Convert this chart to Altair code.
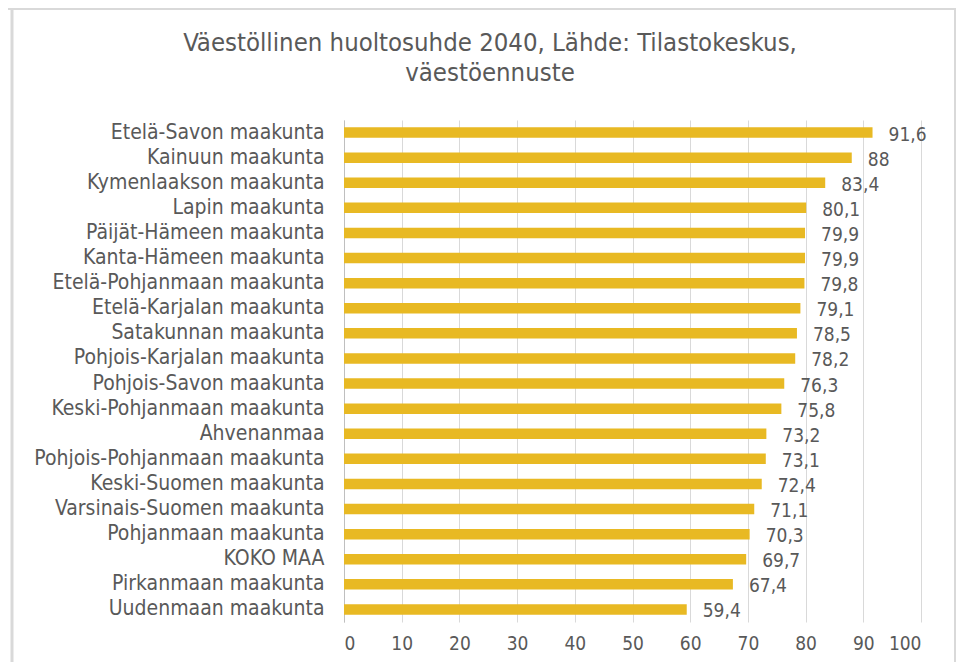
import altair as alt
import pandas as pd

title_lines = ["Väestöllinen huoltosuhde 2040, Lähde: Tilastokeskus,", "väestöennuste"]
regions = [
    "Etelä-Savon maakunta", "Kainuun maakunta", "Kymenlaakson maakunta",
    "Lapin maakunta", "Päijät-Hämeen maakunta", "Kanta-Hämeen maakunta",
    "Etelä-Pohjanmaan maakunta", "Etelä-Karjalan maakunta", "Satakunnan maakunta",
    "Pohjois-Karjalan maakunta", "Pohjois-Savon maakunta", "Keski-Pohjanmaan maakunta",
    "Ahvenanmaa", "Pohjois-Pohjanmaan maakunta", "Keski-Suomen maakunta",
    "Varsinais-Suomen maakunta", "Pohjanmaan maakunta", "KOKO MAA",
    "Pirkanmaan maakunta", "Uudenmaan maakunta",
]
values = [91.6, 88, 83.4, 80.1, 79.9, 79.9, 79.8, 79.1, 78.5, 78.2,
          76.3, 75.8, 73.2, 73.1, 72.4, 71.1, 70.3, 69.7, 67.4, 59.4]
x_ticks = [0, 10, 20, 30, 40, 50, 60, 70, 80, 90, 100]

df = pd.DataFrame({"region": regions, "value": values})
df["label"] = [f"{v:g}".replace(".", ",") for v in values]

FONT = "DejaVu Sans Condensed"
TXT = "#595959"
BORDER = "#D9D9D9"

y_enc = alt.Y("region:N", sort=regions, title=None,
              scale=alt.Scale(paddingInner=0.58, paddingOuter=0.29),
              axis=alt.Axis(domain=True, domainColor="#BFBFBF", ticks=False,
                            labelFontSize=21, labelColor=TXT, labelFont=FONT,
                            labelPadding=20, labelLimit=0, grid=False))
x_enc = alt.X("value:Q", title=None,
              scale=alt.Scale(domain=[0, 100], nice=False),
              axis=alt.Axis(values=x_ticks, domain=False, ticks=False,
                            grid=True, gridColor="#D9D9D9",
                            labelFontSize=19, labelColor=TXT, labelFont=FONT,
                            labelPadding=12))

bars = alt.Chart(df).mark_bar(color="#E8B923").encode(x=x_enc, y=y_enc)
text = alt.Chart(df).mark_text(align="left", baseline="middle", dx=16, dy=2,
                               fontSize=19, font=FONT, color=TXT).encode(
    x=alt.X("value:Q"), y=alt.Y("region:N", sort=regions), text="label:N")

frame_data = alt.Data(values=[{"k": 1}])
title_mark = alt.Chart(frame_data).mark_text(
    text=title_lines, fontSize=25.5, font=FONT, color=TXT, lineHeight=30,
    align="center", baseline="top").encode(x=alt.value(146), y=alt.value(-89))
left_line = alt.Chart(frame_data).mark_rule(color=BORDER, strokeWidth=3).encode(
    x=alt.value(-332), y=alt.value(-112), y2=alt.value(560))
right_line = alt.Chart(frame_data).mark_rule(color=BORDER, strokeWidth=2).encode(
    x=alt.value(611), y=alt.value(-112), y2=alt.value(560))
top_line = alt.Chart(frame_data).mark_rule(color=BORDER, strokeWidth=2).encode(
    x=alt.value(-336), x2=alt.value(612), y=alt.value(-111))

chart = (bars + text + title_mark + left_line + right_line + top_line).properties(
    width=577, height=502,
    padding={"left": 336, "top": 112, "right": 36, "bottom": 40},
    autosize=alt.AutoSizeParams(type="none"),
).configure_view(stroke=None)

chart.save("out.html", embed_options={"renderer": "svg", "actions": False})
